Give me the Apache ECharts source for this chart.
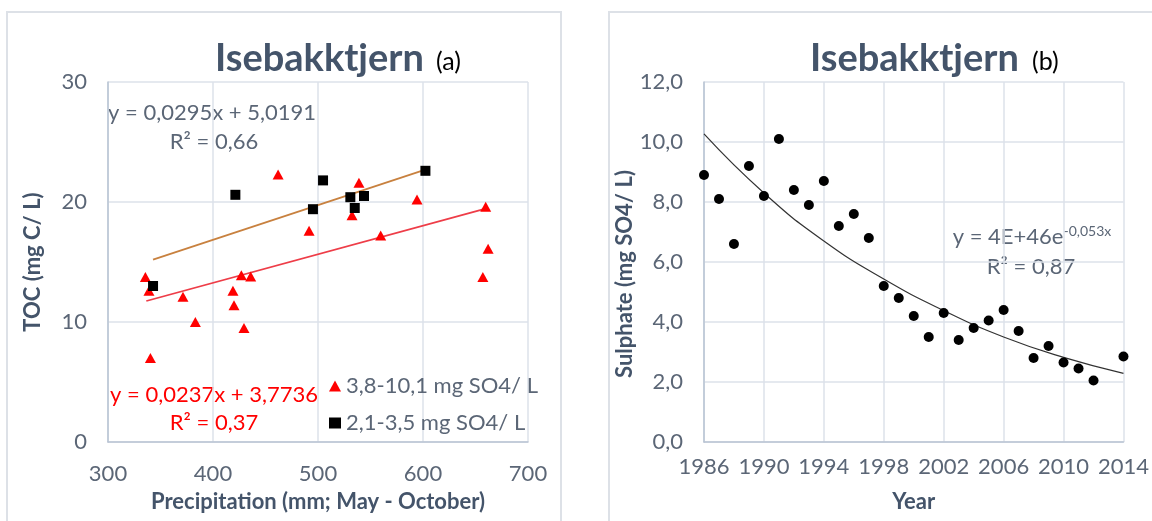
<!DOCTYPE html>
<html><head><meta charset="utf-8">
<script src="https://cdn.jsdelivr.net/npm/echarts@6/dist/echarts.min.js"></script>
<style>html,body{margin:0;padding:0;background:#fff}#c{width:1152px;height:521px}</style>
</head><body><div id="c"></div>
<script>
// Panel (a): TOC vs precipitation
const precipHigh = [462, 491.5, 335.6, 339, 371.4, 383.2, 427, 435.9, 419, 420, 429.5, 340.4, 539, 532.4, 559.7, 594.3, 659.7, 662, 657];
const tocHigh    = [22.3, 17.6, 13.75, 12.6, 12.1, 10.0, 13.9, 13.8, 12.6, 11.4, 9.5, 7.0, 21.6, 18.9, 17.2, 20.2, 19.6, 16.1, 13.75];
const precipLow  = [342.9, 421.3, 504.8, 495.2, 530.8, 543.8, 535, 602.3];
const tocLow     = [13.0, 20.6, 21.8, 19.4, 20.4, 20.5, 19.5, 22.6];
const trendHighX = [336.5, 659.7];
const trendHighY = [11.75, 19.45];
const trendLowX  = [342.9, 602.3];
const trendLowY  = [15.2, 22.7];
const seriesNames = ['3,8-10,1 mg SO4/ L', '2,1-3,5 mg SO4/ L'];
// Panel (b): sulphate by year
const years    = [1986,1987,1988,1989,1990,1991,1992,1993,1994,1995,1996,1997,1998,1999,2000,2001,2002,2003,2004,2005,2006,2007,2008,2009,2010,2011,2012,2014];
const sulphate = [8.9,8.1,6.6,9.2,8.2,10.1,8.4,7.9,8.7,7.2,7.6,6.8,5.2,4.8,4.2,3.5,4.3,3.4,3.8,4.05,4.4,3.7,2.8,3.2,2.65,2.45,2.05,2.85];
const trendYears = [1986,1990,1994,1998,2002,2006,2010,2014];
const trendVals  = [10.27,8.3,6.7,5.43,4.38,3.5,2.82,2.29];

const zip = (a, b) => a.map((v, i) => [v, b[i]]);
const FONT = 'Lato';
const LABEL = '#5b6676';
const DARK = '#44546A';
const GRID = '#dde2ea';
const AXIS = '#b9c4d3';
const FS = 22;

const chart = echarts.init(document.getElementById('c'), null, {renderer: 'canvas'});
const axisCommon = {
  axisTick: {show: false},
  axisLine: {show: true, lineStyle: {color: AXIS, width: 1.5}},
  splitLine: {show: true, lineStyle: {color: GRID, width: 1.5}},
  axisLabel: {color: LABEL, fontSize: FS, fontFamily: FONT}
};
const nameStyle = {color: DARK, fontSize: FS, fontWeight: 'bold', fontFamily: FONT};

chart.setOption({
  animation: false,
  title: [
    {text: 'Isebakktjern', left: 210, top: 35, textStyle: {fontSize: 38, fontWeight: 'bold', color: DARK, fontFamily: FONT}},
    {text: '(a)', left: 431, top: 44, textStyle: {fontSize: 25, fontWeight: 'normal', color: '#000', fontFamily: FONT}},
    {text: 'Isebakktjern', left: 805, top: 35, textStyle: {fontSize: 38, fontWeight: 'bold', color: DARK, fontFamily: FONT}},
    {text: '(b)', left: 1027, top: 44, textStyle: {fontSize: 25, fontWeight: 'normal', color: '#000', fontFamily: FONT}}
  ],
  grid: [
    {left: 108, top: 82, width: 420, height: 360},
    {left: 704, top: 82, width: 420, height: 360}
  ],
  xAxis: [
    Object.assign({}, axisCommon, {gridIndex: 0, type: 'value', min: 300, max: 700, interval: 100,
      axisLabel: Object.assign({}, axisCommon.axisLabel, {margin: 21}),
      name: 'Precipitation (mm; May - October)', nameLocation: 'middle', nameGap: 49, nameTextStyle: nameStyle}),
    Object.assign({}, axisCommon, {gridIndex: 1, type: 'value', min: 1986, max: 2014, interval: 4,
      axisLabel: Object.assign({}, axisCommon.axisLabel, {margin: 14, formatter: v => String(v)}),
      name: 'Year', nameLocation: 'middle', nameGap: 49, nameTextStyle: nameStyle})
  ],
  yAxis: [
    Object.assign({}, axisCommon, {gridIndex: 0, type: 'value', min: 0, max: 30, interval: 10,
      axisLabel: Object.assign({}, axisCommon.axisLabel, {margin: 21}),
      name: 'TOC (mg C/ L)', nameLocation: 'middle', nameGap: 64, nameTextStyle: nameStyle}),
    Object.assign({}, axisCommon, {gridIndex: 1, type: 'value', min: 0, max: 12, interval: 2,
      axisLabel: Object.assign({}, axisCommon.axisLabel, {margin: 21, formatter: v => v.toFixed(1).replace('.', ',')}),
      name: 'Sulphate (mg SO4/ L)', nameLocation: 'middle', nameGap: 58,
      nameTextStyle: Object.assign({}, nameStyle, {padding: [0, 24, 0, 0]})})
  ],
  legend: {
    data: seriesNames, orient: 'vertical', left: 329, top: 375, itemGap: 15, padding: 0,
    itemWidth: 12, itemHeight: 11, itemStyle: {borderWidth: 0},
    textStyle: {color: LABEL, fontSize: FS, fontFamily: FONT}
  },
  series: [
    {name: 'trendLow', type: 'line', xAxisIndex: 0, yAxisIndex: 0, data: zip(trendLowX, trendLowY),
      showSymbol: false, symbol: 'none', lineStyle: {color: '#c8813f', width: 1.8}, z: 1, silent: true},
    {name: 'trendHigh', type: 'line', xAxisIndex: 0, yAxisIndex: 0, data: zip(trendHighX, trendHighY),
      showSymbol: false, symbol: 'none', lineStyle: {color: '#ee3d48', width: 1.8}, z: 1, silent: true},
    {name: seriesNames[0], type: 'scatter', xAxisIndex: 0, yAxisIndex: 0, data: zip(precipHigh, tocHigh),
      symbol: 'triangle', symbolSize: [11, 10], itemStyle: {color: '#ff0000', opacity: 1}, z: 3},
    {name: seriesNames[1], type: 'scatter', xAxisIndex: 0, yAxisIndex: 0, data: zip(precipLow, tocLow),
      symbol: 'rect', symbolSize: 10, itemStyle: {color: '#000000', opacity: 1}, z: 4},
    {name: 'Sulphate trend', type: 'line', xAxisIndex: 1, yAxisIndex: 1, data: zip(trendYears, trendVals),
      smooth: true, showSymbol: false, symbol: 'none', lineStyle: {color: '#333', width: 1.2}, z: 1, silent: true},
    {name: 'Sulphate', type: 'scatter', xAxisIndex: 1, yAxisIndex: 1, data: zip(years, sulphate),
      symbol: 'circle', symbolSize: 10, itemStyle: {color: '#000', opacity: 1}, z: 3}
  ],
  graphic: [
    {type: 'rect', shape: {x: 7, y: 12, width: 554, height: 530}, style: {fill: 'none', stroke: '#dde1e7', lineWidth: 2}, z: -1},
    {type: 'rect', shape: {x: 609, y: 12, width: 560, height: 530}, style: {fill: 'none', stroke: '#dde1e7', lineWidth: 2}, z: -1},
    {type: 'text', x: 212, y: 113, style: {text: 'y = 0,0295x + 5,0191', font: FS + 'px ' + FONT, fill: LABEL, align: 'center', verticalAlign: 'middle'}},
    {type: 'text', x: 214, y: 142, style: {text: 'R² = 0,66', font: FS + 'px ' + FONT, fill: LABEL, align: 'center', verticalAlign: 'middle'}},
    {type: 'text', x: 214, y: 395, style: {text: 'y = 0,0237x + 3,7736', font: FS + 'px ' + FONT, fill: '#ff0000', align: 'center', verticalAlign: 'middle'}},
    {type: 'text', x: 214, y: 423, style: {text: 'R² = 0,37', font: FS + 'px ' + FONT, fill: '#ff0000', align: 'center', verticalAlign: 'middle'}},
    {type: 'text', x: 1032, y: 237, style: {
      text: '{n|y = 4E+46e}{s|-0,053x}', align: 'center', verticalAlign: 'middle', fill: LABEL,
      rich: {n: {fontSize: FS, fontFamily: FONT, fill: LABEL},
             s: {fontSize: 14, fontFamily: FONT, fill: LABEL, padding: [0, 0, 12, 0]}}}},
    {type: 'text', x: 1031, y: 267, style: {text: 'R² = 0,87', font: FS + 'px ' + FONT, fill: LABEL, align: 'center', verticalAlign: 'middle'}}
  ]
});
</script></body></html>
